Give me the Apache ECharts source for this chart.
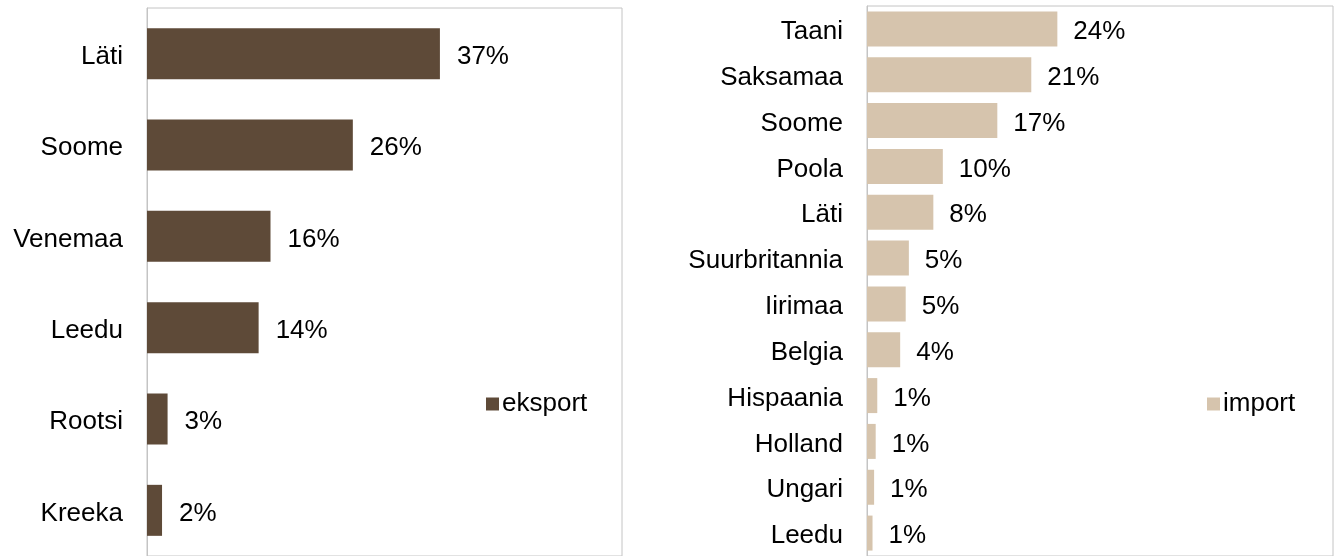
<!DOCTYPE html>
<html>
<head>
<meta charset="utf-8">
<script src="https://cdn.jsdelivr.net/npm/echarts@6/dist/echarts.min.js"></script>
<style>
    html, body { margin: 0; padding: 0; background: #fff; }
    #chart { width: 1341px; height: 556px; }
</style>
</head>
<body>
<div id="chart"></div>
<script>
"use strict";
// eksport (vasak)
var exportCountries = ['Läti', 'Soome', 'Venemaa', 'Leedu', 'Rootsi', 'Kreeka'];
var exportValues = [37.0, 26.0, 15.6, 14.1, 2.6, 1.9];
// import (parem)
var importCountries = ['Taani', 'Saksamaa', 'Soome', 'Poola', 'Läti', 'Suurbritannia',
    'Iirimaa', 'Belgia', 'Hispaania', 'Holland', 'Ungari', 'Leedu'];
var importValues = [24.1, 20.8, 16.5, 9.6, 8.4, 5.3, 4.9, 4.2, 1.3, 1.1, 0.9, 0.7];

var chart = echarts.init(document.getElementById('chart'));
var font = 'Liberation Sans, Arial, sans-serif';
var pct = function (p) { return Math.round(p.value) + '%'; };
// nihutab kategooria nime veidi allapoole
var catLabel = {
    fontSize: 26, color: '#000', margin: 24,
    formatter: function (v) { return '{a|' + v + '}'; },
    rich: { a: { fontSize: 26, color: '#000', fontFamily: font, padding: [6, 0, 0, 0] } }
};

var option = {
    animation: false,
    textStyle: { fontFamily: font },
    legend: [
        {
            data: ['eksport'], left: 481, top: 386,
            itemWidth: 13, itemHeight: 13, itemGap: 4,
            icon: 'rect',
            textStyle: { fontSize: 26, color: '#000', fontFamily: font, padding: [0, 0, 0, -2] }
        },
        {
            data: ['import'], left: 1202, top: 386,
            itemWidth: 13, itemHeight: 13, itemGap: 4,
            icon: 'rect',
            textStyle: { fontSize: 26, color: '#000', fontFamily: font, padding: [0, 0, 0, -2] }
        }
    ],
    grid: [
        { left: 147, top: 8, width: 475, height: 552, show: true, borderColor: '#c4c4c4', borderWidth: 1 },
        { left: 867, top: 6, width: 466, height: 554, show: true, borderColor: '#c4c4c4', borderWidth: 1 }
    ],
    xAxis: [
        { type: 'value', gridIndex: 0, min: 0, max: 60, show: false },
        { type: 'value', gridIndex: 1, min: 0, max: 59, show: false }
    ],
    yAxis: [
        {
            type: 'category', gridIndex: 0, data: exportCountries, inverse: true,
            axisLine: { lineStyle: { color: '#c4c4c4' } },
            axisTick: { show: false },
            axisLabel: catLabel
        },
        {
            type: 'category', gridIndex: 1, data: importCountries, inverse: true,
            axisLine: { lineStyle: { color: '#c4c4c4' } },
            axisTick: { show: false },
            axisLabel: catLabel
        }
    ],
    series: [
        {
            name: 'eksport', type: 'bar', xAxisIndex: 0, yAxisIndex: 0,
            data: exportValues, barWidth: 51,
            itemStyle: { color: '#5e4a38' },
            label: { show: true, position: 'right', distance: 17, fontSize: 26, color: '#000',
                offset: [0, 3], formatter: pct }
        },
        {
            name: 'import', type: 'bar', xAxisIndex: 1, yAxisIndex: 1,
            data: importValues, barWidth: 35,
            itemStyle: { color: '#d6c4ad' },
            label: { show: true, position: 'right', distance: 16, fontSize: 26, color: '#000',
                offset: [0, 3], formatter: pct }
        }
    ]
};
chart.setOption(option);
</script>
</body>
</html>
